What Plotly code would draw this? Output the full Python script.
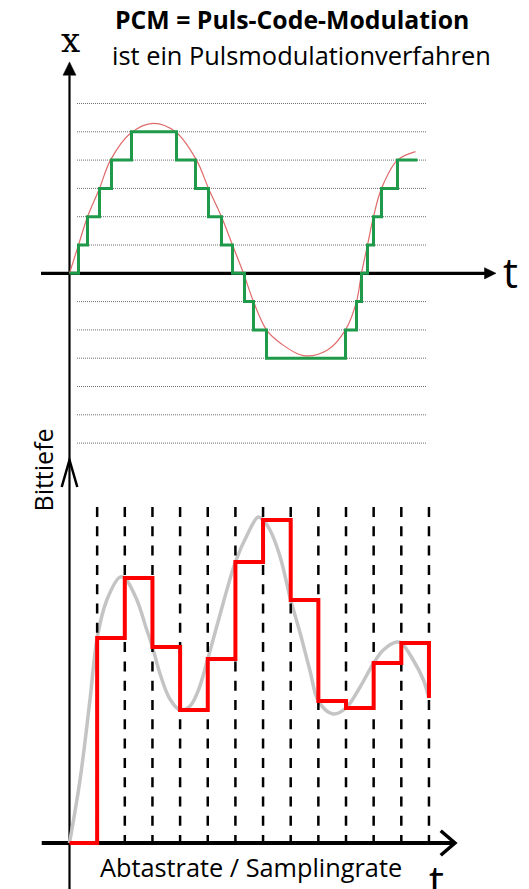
import plotly.graph_objects as go

W, H = 529, 889

# ---------------- data ----------------
# Upper diagram: analog signal x(t), expressed in quantisation steps
signal_t = [0, 0.9, 1.8, 3.0, 4.1, 6.1, 8.4, 10.6, 12.7, 13.9, 15.2, 16.3, 17.4,
            18.4, 19.7, 21.1, 23.4, 25.8, 27.6, 28.7, 29.2, 29.8, 30.4, 31.2, 32.8, 34.6]
signal_x = [0, 1, 2, 3, 4, 4.95, 5.3, 5.0, 4.0, 3, 2, 1, 0,
            -1, -2, -2.47, -2.91, -2.71, -2, -1, 0, 1, 2, 3, 4, 4.3]

# PCM staircase (quantised signal)
pcm_t = [0, 0.9, 1.8, 3.0, 4.2, 6.2, 10.7, 12.6, 13.9, 15.2, 16.3, 17.5, 18.4,
         19.7, 27.6, 28.7, 29.2, 29.8, 30.4, 31.2, 32.8, 34.8]
pcm_level = [0, 1, 2, 3, 4, 5, 4, 3, 2, 1, 0, -1, -2,
             -3, -2, -1, 0, 1, 2, 3, 4, 4]

# quantisation levels (dotted lines)
grid_levels = [-6, -5, -4, -3, -2, -1, 1, 2, 3, 4, 5, 6]

# Lower diagram: analog signal and sample & hold values
analog_n = [0, 0.38, 0.74, 1, 1.35, 1.83, 2, 2.43, 2.79, 3, 3.27, 3.63, 4, 4.36,
            4.65, 5, 5.37, 6, 6.46, 6.82, 7, 7.25, 7.61, 8, 8.34, 8.70, 9, 9.53,
            10, 10.51, 11, 11.35, 11.83, 12, 12.43, 12.8, 13]
analog_v = [0, 6.3, 14.3, 20.5, 24.3, 26.6, 26.5, 24.35, 21.35, 19.6, 16.95, 14.4, 13.3, 13.7,
            15.2, 18.4, 22.1, 28.1, 31.0, 32.6, 32.3, 31.3, 28.7, 24.3, 21.0, 17.2, 14.2, 12.9,
            13.5, 15.6, 18.0, 19.3, 20.1, 20.0, 18.3, 16.3, 14.5]

sample_n = [0, 1, 2, 3, 4, 5, 6, 7, 8, 9, 10, 11, 12, 13]
sample_v = [0, 20.5, 26.5, 19.6, 13.3, 18.4, 28.1, 32.3, 24.3, 14.2, 13.5, 18.0, 20.0, 14.5]
sample_top = 33.6  # height of the dashed sampling lines

# ---------------- helpers (pixel -> paper) ----------------
def px(x):
    return x / W

def py(y):
    return 1 - y / H

fig = go.Figure()

# lower diagram traces (x2/y2)
fig.add_trace(go.Scatter(x=analog_n, y=analog_v, xaxis="x2", yaxis="y2", mode="lines",
                         line=dict(color="#c4c4c4", width=3.5, shape="spline", smoothing=1.0),
                         hoverinfo="skip", showlegend=False))
for n in sample_n[1:]:
    fig.add_trace(go.Scatter(x=[n, n], y=[sample_top, 0], xaxis="x2", yaxis="y2", mode="lines",
                             line=dict(color="black", width=2.5, dash="10px,9.3px"),
                             hoverinfo="skip", showlegend=False))
fig.add_trace(go.Scatter(x=sample_n, y=sample_v, xaxis="x2", yaxis="y2", mode="lines",
                         line=dict(color="#ff0000", width=4, shape="hv"),
                         hoverinfo="skip", showlegend=False))

# upper diagram traces
fig.add_trace(go.Scatter(x=signal_t, y=signal_x, mode="lines",
                         line=dict(color="#e06a6a", width=1.2, shape="spline", smoothing=1.0),
                         hoverinfo="skip", showlegend=False))
fig.add_trace(go.Scatter(x=pcm_t, y=pcm_level, mode="lines",
                         line=dict(color="#1e9a4a", width=3, shape="hv"),
                         hoverinfo="skip", showlegend=False))

shapes = []
# dotted quantisation lines
for lv in grid_levels:
    shapes.append(dict(type="line", xref="x", yref="y", x0=0.75, x1=35.75, y0=lv, y1=lv,
                       line=dict(color="#707070", width=1, dash="1px,1px"), layer="below"))
# upper axes
shapes.append(dict(type="line", xref="x", yref="y", x0=-2.85, x1=41.6, y0=0, y1=0,
                   line=dict(color="black", width=3.2), layer="below"))
shapes.append(dict(type="path", xref="x", yref="y", path="M42.65,0 L41.5,0.2 L41.5,-0.2 Z",
                   fillcolor="black", line=dict(color="black", width=0.5), layer="below"))
shapes.append(dict(type="line", xref="x", yref="y", x0=0, x1=0, y0=7.0, y1=-21.8,
                   line=dict(color="black", width=2.2), layer="below"))
shapes.append(dict(type="path", xref="x", yref="y", path="M0,7.47 L-0.65,7.0 L0.65,7.0 Z",
                   fillcolor="black", line=dict(color="black", width=0.5), layer="below"))
# lower axes
shapes.append(dict(type="line", xref="x2", yref="y2", x0=-1.005, x1=13.9, y0=0, y1=0,
                   line=dict(color="black", width=4), layer="below"))
shapes.append(dict(type="path", xref="x2", yref="y2", path="M13.425,1.23 L13.94,0 L13.425,-1.23",
                   line=dict(color="black", width=3.5), layer="below"))
shapes.append(dict(type="path", xref="x2", yref="y2", path="M-0.282,35.6 L0,38.3 L0.282,35.6",
                   line=dict(color="black", width=2.5), layer="below"))

annotations = [
    dict(text="<b>PCM = Puls-Code-Modulation</b>", x=px(113), y=py(19), xanchor="left",
         yanchor="middle", font=dict(family="Open Sans", size=24.8, color="black")),
    dict(text="ist ein Pulsmodulationverfahren", x=px(110), y=py(55), xanchor="left",
         yanchor="middle", font=dict(family="Open Sans", size=25.4, color="black")),
    dict(text="x", x=px(70), y=py(40), xanchor="center", yanchor="middle",
         font=dict(family="DejaVu Serif", size=34, color="black")),
    dict(text="t", x=px(510), y=py(272), xanchor="center", yanchor="middle",
         font=dict(family="Open Sans", size=42, color="black")),
    dict(text="t", x=px(436), y=py(879), xanchor="center", yanchor="middle",
         font=dict(family="Open Sans", size=42, color="black")),
    dict(text="Bittiefe", x=px(42), y=py(470.5), xanchor="center", yanchor="middle", textangle=-90,
         font=dict(family="Open Sans", size=25, color="black")),
    dict(text="Abtastrate / Samplingrate", x=px(250.5), y=py(867), xanchor="center", yanchor="middle",
         font=dict(family="Open Sans", size=25.3, color="black")),
]
for a in annotations:
    a.update(xref="paper", yref="paper", showarrow=False)

axis_off = dict(visible=False, showgrid=False, zeroline=False, fixedrange=True)
fig.update_layout(
    width=W, height=H, margin=dict(l=0, r=0, t=0, b=0),
    paper_bgcolor="white", plot_bgcolor="rgba(0,0,0,0)",
    xaxis=dict(axis_off, domain=[0, 1], range=[-6.95, 45.95]),
    yaxis=dict(axis_off, domain=[0, 1], range=[-21.756, 9.657]),
    xaxis2=dict(axis_off, domain=[0, 1], range=[-2.5136, 16.618], anchor="y2"),
    yaxis2=dict(axis_off, domain=[0, 1], range=[-4.6, 84.3], anchor="x2"),
    shapes=shapes, annotations=annotations, showlegend=False,
)

fig.write_html("out.html", config={"displayModeBar": False, "staticPlot": True},
               post_script="document.body.style.margin='0';document.body.style.overflow='hidden';")
